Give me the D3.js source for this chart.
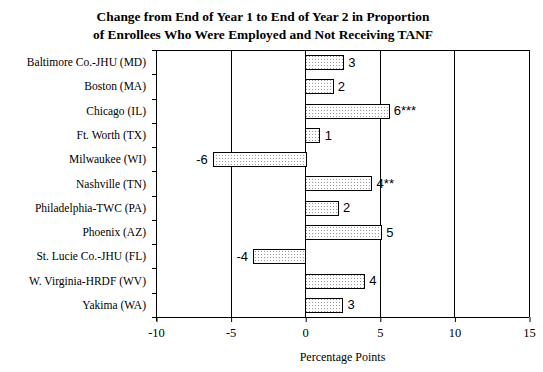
<!DOCTYPE html>
<html>
<head>
<meta charset="utf-8">
<script src="https://cdn.jsdelivr.net/npm/d3@7"></script>
<style>
  body { margin: 0; background: #fff; }
  text { font-family: "Liberation Serif", "Times New Roman", serif; fill: #000; }
  .val { font-family: "Liberation Sans", Arial, sans-serif; font-size: 13px; }
</style>
</head>
<body>
<svg id="chart"></svg>
<script>
// data
const sites = ["Baltimore Co.-JHU (MD)", "Boston (MA)", "Chicago (IL)", "Ft. Worth (TX)",
  "Milwaukee (WI)", "Nashville (TN)", "Philadelphia-TWC (PA)", "Phoenix (AZ)",
  "St. Lucie Co.-JHU (FL)", "W. Virginia-HRDF (WV)", "Yakima (WA)"];
const changes = [2.55, 1.85, 5.6, 0.97, -6.2, 4.45, 2.2, 5.1, -3.5, 3.95, 2.5];
const valueLabels = ["3", "2", "6***", "1", "-6", "4**", "2", "5", "-4", "4", "3"];
const xTicks = [-10, -5, 0, 5, 10, 15];

const data = sites.map((s, i) => ({site: s, value: changes[i], label: valueLabels[i]}));

// set the margin
const margin = {top: 50, right: 14, bottom: 55, left: 156};
const width = 543 - margin.left - margin.right;
const height = 372 - margin.top - margin.bottom;

const x = d3.scaleLinear().domain([-10, 15]).range([0, width]);
const y = d3.scaleBand().domain(sites).range([0, height]).paddingInner(0.42).paddingOuter(0.21);

const root = d3.select("svg#chart")
  .attr("width", 543)
  .attr("height", 372);

// dotted fill pattern
const pat = root.append("defs").append("pattern")
  .attr("id", "dots")
  .attr("width", 3).attr("height", 3)
  .attr("patternUnits", "userSpaceOnUse");
pat.append("rect").attr("width", 3).attr("height", 3).attr("fill", "#fff");
pat.append("rect").attr("width", 1).attr("height", 1).attr("fill", "#999");

// title
root.append("text")
  .attr("x", 263).attr("y", 21)
  .attr("text-anchor", "middle")
  .style("font-size", "13.4px").style("font-weight", "bold")
  .text("Change from End of Year 1 to End of Year 2 in Proportion");
root.append("text")
  .attr("x", 263).attr("y", 39)
  .attr("text-anchor", "middle")
  .style("font-size", "13.4px").style("font-weight", "bold")
  .text("of Enrollees Who Were Employed and Not Receiving TANF");

const svg = root.append("g")
  .attr("transform", "translate(" + margin.left + "," + margin.top + ")");

// vertical gridlines
svg.append("g")
  .selectAll("line")
  .data(xTicks)
  .enter().append("line")
    .attr("x1", d => Math.round(x(d)) + 0.5)
    .attr("x2", d => Math.round(x(d)) + 0.5)
    .attr("y1", 0)
    .attr("y2", height)
    .attr("stroke", "#000");

// top border
svg.append("line")
  .attr("x1", 0).attr("x2", width)
  .attr("y1", 0.5).attr("y2", 0.5)
  .attr("stroke", "#000");

// bars
svg.selectAll(".bar")
  .data(data)
  .enter().append("rect")
    .attr("class", "bar")
    .attr("x", d => Math.round(x(Math.min(0, d.value))) + 0.5)
    .attr("y", d => Math.round(y(d.site)) + 0.5)
    .attr("width", d => Math.round(Math.abs(x(d.value) - x(0))))
    .attr("height", Math.round(y.bandwidth()))
    .attr("fill", "url(#dots)")
    .attr("stroke", "#000");

// value labels
svg.selectAll(".val")
  .data(data)
  .enter().append("text")
    .attr("class", "val")
    .attr("x", d => d.value < 0 ? x(d.value) - 5 : x(d.value) + 5)
    .attr("y", d => y(d.site) + y.bandwidth() / 2)
    .attr("dy", "0.35em")
    .attr("text-anchor", d => d.value < 0 ? "end" : "start")
    .text(d => d.label);

// y axis with ticks between categories
const yAxis = svg.append("g").attr("class", "axis");
yAxis.append("line")
  .attr("x1", 0.5).attr("x2", 0.5)
  .attr("y1", 0).attr("y2", height + 4)
  .attr("stroke", "#000");
yAxis.selectAll(".ytick")
  .data(d3.range(sites.length + 1))
  .enter().append("line")
    .attr("x1", -4).attr("x2", 0)
    .attr("y1", i => Math.round(i * height / sites.length) + 0.5)
    .attr("y2", i => Math.round(i * height / sites.length) + 0.5)
    .attr("stroke", "#000");
yAxis.selectAll(".ylab")
  .data(sites)
  .enter().append("text")
    .attr("x", -10)
    .attr("y", d => y(d) + y.bandwidth() / 2)
    .attr("dy", "0.35em")
    .attr("text-anchor", "end")
    .style("font-size", "11.5px")
    .text(d => d);

// x axis
svg.append("g")
  .attr("transform", "translate(0," + height + ")")
  .call(d3.axisBottom(x).tickValues(xTicks).tickSize(5).tickPadding(6).tickFormat(d => String(d)))
  .call(g => g.select(".domain").attr("d", "M-4,0.5H" + width))
  .call(g => g.selectAll(".tick line").attr("transform", "translate(0.5,0)").attr("stroke", "#000"))
  .call(g => g.selectAll(".tick text")
    .style("font-family", "'Liberation Serif', serif")
    .style("font-size", "12.5px")
    .attr("fill", "#000"));

// x axis title
svg.append("text")
  .attr("x", width / 2)
  .attr("y", height + 44)
  .attr("text-anchor", "middle")
  .style("font-size", "12px")
  .text("Percentage Points");
</script>
</body>
</html>
